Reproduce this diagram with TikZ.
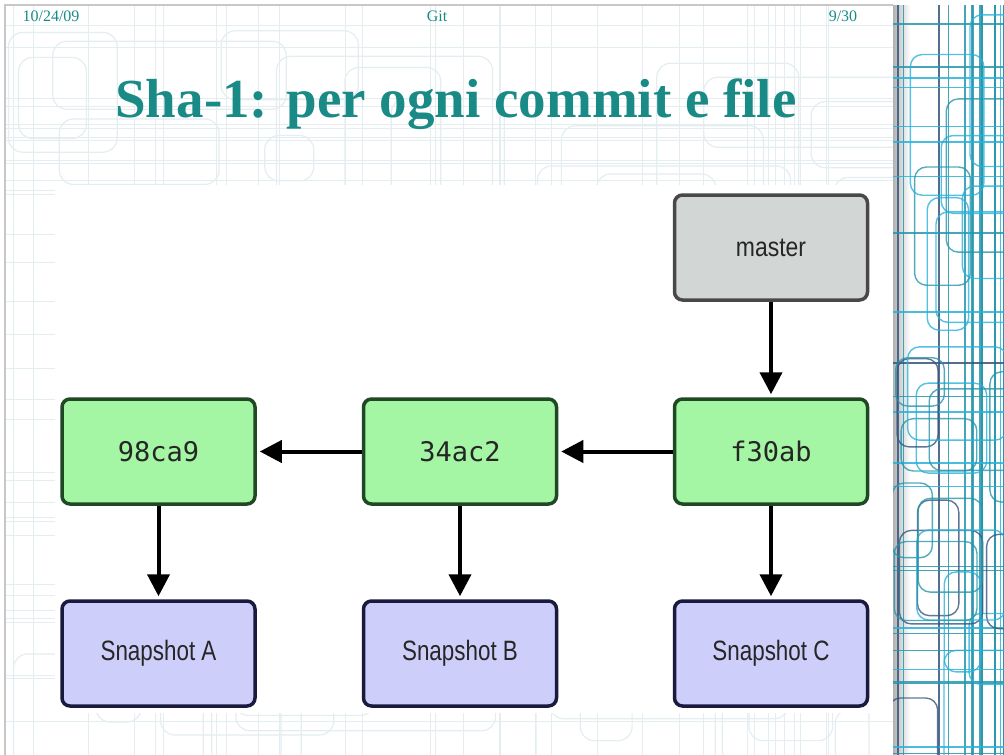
\documentclass[tikz,border=0pt]{standalone}
\usepackage{fontspec}
\setmainfont{Liberation Serif}
\newfontfamily\boxsans{Liberation Sans}
\newfontfamily\boxmono{DejaVu Sans Mono}
\usetikzlibrary{arrows.meta}
\definecolor{teal1}{RGB}{26,138,135}
\definecolor{pat}{RGB}{228,238,241}
\definecolor{gfill}{RGB}{164,245,164}
\definecolor{gdraw}{RGB}{32,72,36}
\definecolor{mfill}{RGB}{210,214,212}
\definecolor{mdraw}{RGB}{72,72,72}
\definecolor{sfill}{RGB}{206,206,250}
\definecolor{sdraw}{RGB}{26,26,62}
\definecolor{ca}{RGB}{40,178,218}
\definecolor{cb}{RGB}{38,150,172}
\definecolor{cc}{RGB}{55,85,125}
\begin{document}
\begin{tikzpicture}[x=1pt,y=-1pt,
 box/.style={rounded corners=8pt,line width=3.5pt,minimum width=193pt,minimum height=105pt,inner sep=0pt},
 commit/.style={box,fill=gfill,draw=gdraw,text=black!85,font=\boxmono\fontsize{27}{27}\selectfont},
 branch/.style={box,fill=mfill,draw=mdraw,text=black!85,font=\boxsans\fontsize{27}{27}\selectfont},
 snap/.style={box,fill=sfill,draw=sdraw,text=black!85,font=\boxsans\fontsize{28}{28}\selectfont},
 link/.style={line width=4pt,-{Triangle[width=22pt,length=22pt]},shorten >=3pt},
 hdr/.style={text=teal1,font=\fontsize{16}{16}\selectfont,anchor=base},
 patline/.style={draw=pat,line width=1.2pt,rounded corners=14pt}
]
\useasboundingbox (0,0) rectangle (1004,755);
\fill[white] (0,0) rectangle (1004,755);
% faint background pattern on slide
\begin{scope}
\clip (5,5) rectangle (893,755);
\pgfmathsetseed{4711}
\foreach \k in {1,...,70}{
  \pgfmathsetmacro\xa{5+rnd*860}
  \pgfmathsetmacro\ya{5+rnd*720}
  \pgfmathsetmacro\wa{40+rnd*220}
  \pgfmathsetmacro\ha{30+rnd*160}
  \draw[patline] (\xa,\ya) rectangle ++(\wa,\ha);
}
\foreach \k in {1,...,35}{
  \pgfmathsetmacro\xa{5+rnd*880}
  \draw[pat,line width=0.8pt] (\xa,5) -- (\xa,755);
  \pgfmathsetmacro\ya{5+rnd*750}
  \draw[pat,line width=0.8pt] (5,\ya) -- (893,\ya);
}
\end{scope}
% slide frame
\draw[black!22,line width=1.6pt] (5,755) -- (5,5) -- (893,5);
% header
\node[hdr] (date) at (51,21) {10/24/09};
\node[hdr] (topic) at (437,21) {Git};
\node[hdr] (page) at (843,21) {9/30};
% title
\node[anchor=base,text=teal1,font=\bfseries\fontsize{55}{55}\selectfont] (title) at (456,117) {Sha-1: per ogni commit e file};
% white panel
\fill[white] (55,185) rectangle (893,713);
% right decorative strip
\begin{scope}
\clip (893,5) rectangle (1004,755);
\fill[white] (893,5) rectangle (1004,755);
\shade[left color=black!30,right color=white] (893,5) rectangle (910,755);
\pgfmathsetseed{321}
\foreach \k in {1,...,16}{
  \pgfmathsetmacro\xa{897+rnd*107}
  \pgfmathsetmacro\cn{int(rnd*5)}
  \ifnum\cn<2 \def\cl{ca}\fi \ifnum\cn>1 \def\cl{cb}\fi \ifnum\cn=4 \def\cl{cc}\fi
  \draw[\cl,line width=1.6pt,opacity=0.85] (\xa,5) -- (\xa,755);
}
\foreach \k in {1,...,24}{
  \pgfmathsetmacro\ya{5+rnd*750}
  \pgfmathsetmacro\cn{int(rnd*5)}
  \ifnum\cn<2 \def\cl{ca}\fi \ifnum\cn>1 \def\cl{cb}\fi \ifnum\cn=4 \def\cl{cc}\fi
  \draw[\cl,line width=1.6pt,opacity=0.85] (893,\ya) -- (1004,\ya);
}
\foreach \k in {1,...,26}{
  \pgfmathsetmacro\xa{885+rnd*105}
  \pgfmathsetmacro\ya{5+rnd*720}
  \pgfmathsetmacro\wa{35+rnd*70}
  \pgfmathsetmacro\ha{40+rnd*120}
  \pgfmathsetmacro\cn{int(rnd*5)}
  \ifnum\cn<2 \def\cl{ca}\fi \ifnum\cn>1 \def\cl{cb}\fi \ifnum\cn=4 \def\cl{cc}\fi
  \draw[\cl,line width=1.4pt,rounded corners=12pt,opacity=0.8] (\xa,\ya) rectangle ++(\wa,\ha);
}
\end{scope}
% diagram
\node[branch] (master) at (771,247.5) {\scalebox{0.85}[1]{master}};
\node[commit] (f30ab) at (771,451.5) {f30ab};
\node[commit] (c34ac2) at (460,451.5) {34ac2};
\node[commit] (c98ca9) at (158.5,451.5) {98ca9};
\node[snap] (snapA) at (158.5,653.5) {\scalebox{0.8}[1]{Snapshot A}};
\node[snap] (snapB) at (460,653.5) {\scalebox{0.8}[1]{Snapshot B}};
\node[snap] (snapC) at (771,653.5) {\scalebox{0.8}[1]{Snapshot C}};
\draw[link] (master) -- (f30ab);
\draw[link] (f30ab) -- (c34ac2);
\draw[link] (c34ac2) -- (c98ca9);
\draw[link] (c98ca9) -- (snapA);
\draw[link] (c34ac2) -- (snapB);
\draw[link] (f30ab) -- (snapC);
\end{tikzpicture}
\end{document}
